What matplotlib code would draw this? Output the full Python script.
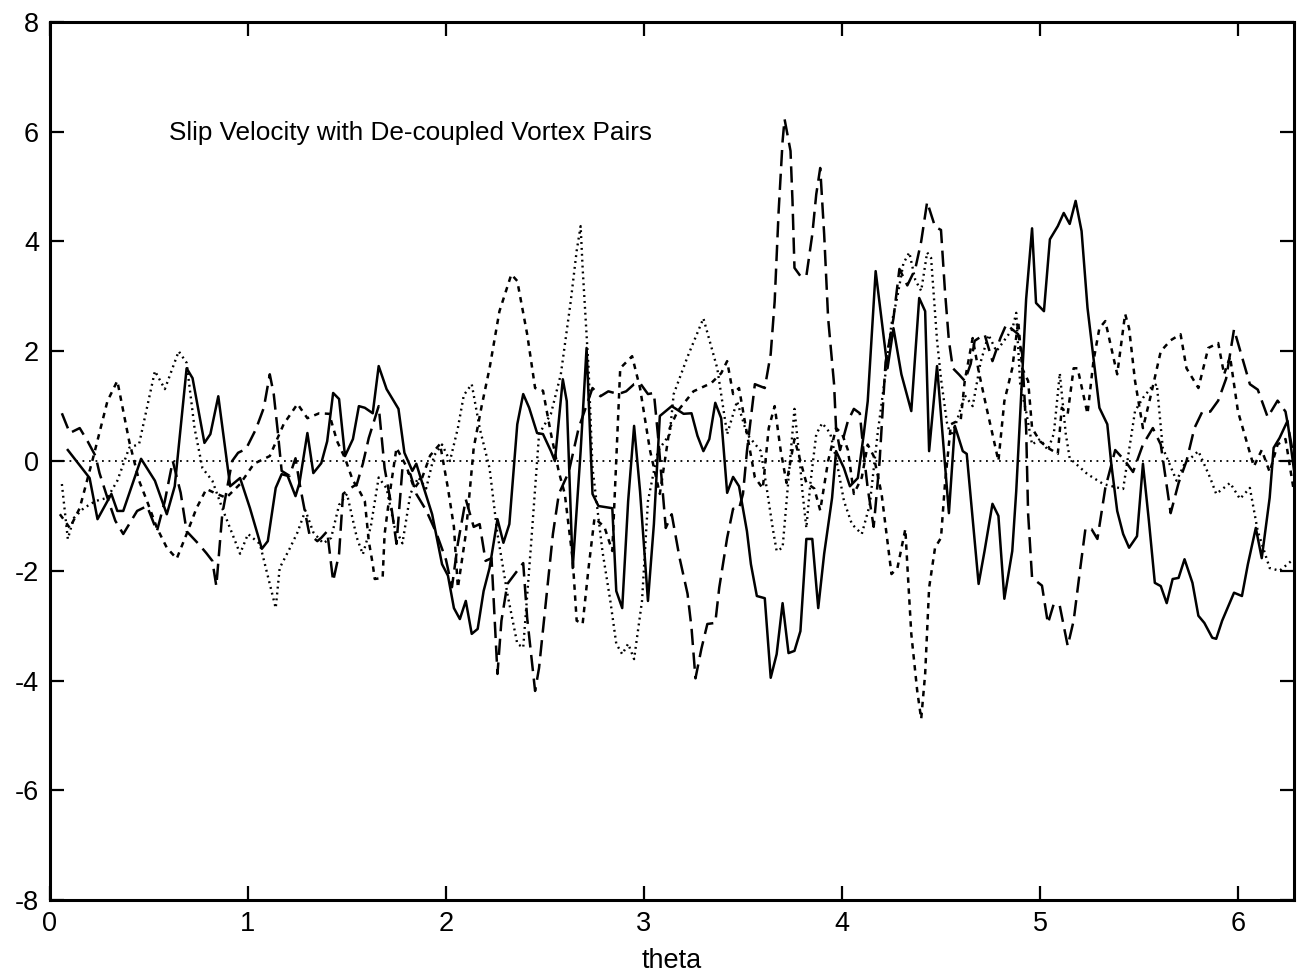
import numpy as np
import matplotlib
matplotlib.use("Agg")
import matplotlib.pyplot as plt

plt.rcParams['font.family'] = ['Liberation Sans', 'DejaVu Sans']
plt.rcParams['axes.unicode_minus'] = False

# solid curve
x_solid = [0.09, 0.20, 0.24, 0.31, 0.34, 0.37, 0.46, 0.53, 0.59, 0.63, 0.69, 0.72, 0.78, 0.81, 0.85, 0.91, 0.96, 1.01,
           1.07, 1.10, 1.14, 1.17, 1.20, 1.24, 1.26, 1.30, 1.33, 1.37, 1.40, 1.43, 1.46, 1.49, 1.53, 1.56, 1.59, 1.63,
           1.66, 1.70, 1.73, 1.76, 1.79, 1.83, 1.85, 1.88, 1.93, 1.98, 2.01, 2.04, 2.07, 2.10, 2.13, 2.16, 2.19, 2.22,
           2.26, 2.29, 2.32, 2.36, 2.39, 2.42, 2.46, 2.49, 2.53, 2.55, 2.59, 2.61, 2.64, 2.68, 2.71, 2.74, 2.77, 2.84,
           2.86, 2.89, 2.92, 2.95, 2.98, 3.02, 3.05, 3.08, 3.14, 3.20, 3.24, 3.27, 3.30, 3.33, 3.36, 3.39, 3.42, 3.45,
           3.48, 3.52, 3.54, 3.57, 3.61, 3.64, 3.67, 3.70, 3.73, 3.76, 3.79, 3.82, 3.85, 3.88, 3.91, 3.95, 3.97, 4.01,
           4.04, 4.08, 4.11, 4.13, 4.17, 4.23, 4.26, 4.30, 4.35, 4.39, 4.42, 4.44, 4.48, 4.54, 4.57, 4.61, 4.63, 4.69,
           4.72, 4.76, 4.79, 4.82, 4.86, 4.88, 4.93, 4.96, 4.98, 5.02, 5.05, 5.09, 5.12, 5.15, 5.18, 5.21, 5.24, 5.27,
           5.30, 5.34, 5.36, 5.39, 5.42, 5.45, 5.49, 5.52, 5.55, 5.58, 5.61, 5.64, 5.67, 5.70, 5.73, 5.77, 5.80, 5.83,
           5.87, 5.89, 5.92, 5.98, 6.02, 6.05, 6.09, 6.12, 6.16, 6.18, 6.21, 6.25, 6.29]
y_solid = [0.20, -0.31, -1.06, -0.60, -0.91, -0.91, 0.04, -0.36, -0.97, -0.46, 1.69, 1.51, 0.33, 0.49, 1.18, -0.46,
           -0.31, -0.86, -1.60, -1.46, -0.49, -0.24, -0.27, -0.64, -0.40, 0.51, -0.22, -0.04, 0.36, 1.24, 1.13, 0.09,
           0.40, 1.00, 0.97, 0.87, 1.73, 1.31, 1.13, 0.95, 0.15, -0.18, -0.05, -0.40, -0.97, -1.88, -2.09, -2.68, -2.88,
           -2.55, -3.15, -3.06, -2.37, -1.95, -1.06, -1.49, -1.15, 0.67, 1.22, 0.97, 0.51, 0.49, 0.18, 0.00, 1.49, 1.09,
           -1.95, 0.18, 2.06, -0.60, -0.82, -0.86, -2.37, -2.68, -0.73, 0.64, -0.55, -2.55, -1.15, 0.82, 1.00, 0.86,
           0.87, 0.46, 0.18, 0.40, 1.06, 0.78, -0.58, -0.29, -0.46, -1.28, -1.88, -2.46, -2.50, -3.95, -3.52, -2.59,
           -3.50, -3.46, -3.10, -1.42, -1.42, -2.68, -1.69, -0.67, 0.18, -0.13, -0.46, -0.31, 0.49, 1.09, 3.46, 1.69,
           2.42, 1.58, 0.91, 2.97, 2.73, 0.18, 1.73, -0.95, 0.64, 0.18, 0.13, -2.24, -1.64, -0.78, -1.00, -2.51, -1.64,
           -0.55, 2.95, 4.24, 2.88, 2.73, 4.04, 4.28, 4.52, 4.32, 4.74, 4.19, 2.79, 1.88, 0.97, 0.67, -0.05, -0.91,
           -1.33, -1.58, -1.37, -0.05, -1.09, -2.22, -2.28, -2.59, -2.15, -2.13, -1.79, -2.22, -2.82, -2.95, -3.22,
           -3.24, -2.91, -2.40, -2.46, -1.88, -1.22, -1.77, -0.67, 0.24, 0.42, 0.73, -0.36]

# long dashed curve
x_long = [0.06, 0.10, 0.15, 0.19, 0.23, 0.25, 0.29, 0.33, 0.37, 0.41, 0.44, 0.49, 0.54, 0.58, 0.62, 0.66, 0.69, 0.75,
          0.79, 0.82, 0.84, 0.87, 0.92, 0.95, 0.99, 1.04, 1.08, 1.11, 1.13, 1.15, 1.17, 1.21, 1.24, 1.26, 1.29, 1.31,
          1.35, 1.37, 1.40, 1.43, 1.46, 1.48, 1.52, 1.55, 1.58, 1.61, 1.66, 1.69, 1.72, 1.75, 1.78, 1.82, 1.85, 1.90,
          1.95, 2.00, 2.03, 2.06, 2.10, 2.14, 2.17, 2.20, 2.23, 2.26, 2.28, 2.31, 2.36, 2.39, 2.41, 2.45, 2.47, 2.51,
          2.54, 2.57, 2.62, 2.67, 2.74, 2.78, 2.82, 2.87, 2.91, 2.95, 2.98, 3.02, 3.05, 3.07, 3.11, 3.14, 3.18, 3.22,
          3.24, 3.26, 3.29, 3.32, 3.36, 3.38, 3.42, 3.45, 3.48, 3.50, 3.52, 3.56, 3.61, 3.64, 3.66, 3.68, 3.70, 3.71,
          3.74, 3.75, 3.76, 3.79, 3.82, 3.85, 3.87, 3.89, 3.91, 3.93, 3.96, 3.97, 3.99, 4.03, 4.06, 4.09, 4.11, 4.13,
          4.16, 4.19, 4.22, 4.26, 4.29, 4.33, 4.37, 4.40, 4.43, 4.47, 4.50, 4.52, 4.54, 4.56, 4.59, 4.62, 4.65, 4.67,
          4.72, 4.76, 4.80, 4.83, 4.89, 4.91, 4.93, 4.94, 4.96, 5.01, 5.04, 5.07, 5.10, 5.14, 5.17, 5.20, 5.23, 5.26,
          5.29, 5.33, 5.38, 5.43, 5.47, 5.52, 5.57, 5.61, 5.66, 5.70, 5.74, 5.78, 5.82, 5.86, 5.90, 5.94, 5.98, 6.02,
          6.06, 6.10, 6.15, 6.20, 6.24, 6.28]
y_long = [0.87, 0.51, 0.60, 0.36, 0.09, -0.22, -0.67, -1.09, -1.33, -1.09, -0.91, -0.82, -1.28, -0.73, 0.00, -0.58,
          -1.28, -1.51, -1.68, -1.82, -2.28, -0.97, 0.00, 0.15, 0.22, 0.58, 0.97, 1.58, 1.22, 0.55, -0.18, -0.27, 0.05,
          -0.40, -0.97, -1.33, -1.46, -1.40, -1.28, -2.19, -1.69, -0.60, -0.49, -0.42, -0.05, 0.42, 1.00, -0.13, -0.73,
          -1.51, -0.13, -0.24, -0.60, -0.90, -1.30, -1.80, -2.30, -1.50, -0.70, -1.20, -1.15, -1.82, -1.77, -3.88,
          -2.91, -2.24, -2.00, -1.86, -2.86, -4.19, -3.77, -2.37, -1.33, -0.60, -0.20, 0.60, 1.33, 1.18, 1.27, 1.22,
          1.27, 1.40, 1.42, 1.22, 1.24, 0.49, -1.22, -0.97, -1.77, -2.42, -3.04, -3.96, -3.42, -2.97, -2.95, -2.31,
          -1.40, -0.87, -0.87, -0.60, 0.18, 1.40, 1.33, 1.95, 2.91, 4.55, 5.83, 6.23, 5.65, 4.74, 3.52, 3.37, 3.37,
          4.13, 4.86, 5.34, 4.13, 2.60, 1.40, 0.60, 0.20, 0.73, 0.95, 0.87, 0.13, -0.50, -1.20, 0.00, 1.80, 2.60, 3.50,
          3.20, 3.50, 4.00, 4.72, 4.27, 4.21, 3.10, 2.19, 1.69, 1.58, 1.46, 1.77, 2.19, 2.31, 1.82, 2.24, 2.49, 2.31,
          1.95, 0.60, -0.96, -2.13, -2.27, -2.96, -2.60, -2.64, -3.37, -2.91, -2.05, -1.22, -1.24, -1.42, -0.49, 0.20,
          0.00, -0.20, 0.30, 0.60, 0.30, -0.95, -0.40, 0.00, 0.60, 0.90, 0.90, 1.10, 1.50, 2.40, 1.90, 1.40, 1.30,
          0.80, 1.10, 0.90, 0.10]

# short dashed curve
x_short = [0.05, 0.10, 0.15, 0.22, 0.29, 0.34, 0.40, 0.45, 0.49, 0.54, 0.59, 0.64, 0.69, 0.74, 0.79, 0.83, 0.89, 0.96,
           1.03, 1.11, 1.18, 1.25, 1.30, 1.36, 1.41, 1.45, 1.49, 1.53, 1.55, 1.59, 1.61, 1.63, 1.64, 1.68, 1.69, 1.72,
           1.75, 1.80, 1.84, 1.88, 1.92, 1.97, 2.01, 2.04, 2.06, 2.10, 2.14, 2.18, 2.22, 2.27, 2.33, 2.36, 2.41, 2.45,
           2.49, 2.53, 2.57, 2.60, 2.64, 2.66, 2.69, 2.72, 2.75, 2.80, 2.84, 2.88, 2.94, 2.98, 3.03, 3.08, 3.13, 3.17,
           3.25, 3.34, 3.39, 3.42, 3.45, 3.48, 3.52, 3.56, 3.60, 3.63, 3.66, 3.69, 3.72, 3.76, 3.79, 3.82, 3.86, 3.89,
           3.93, 3.97, 4.00, 4.03, 4.06, 4.10, 4.13, 4.16, 4.20, 4.25, 4.28, 4.32, 4.33, 4.35, 4.38, 4.40, 4.42, 4.44,
           4.47, 4.50, 4.52, 4.55, 4.60, 4.62, 4.66, 4.69, 4.73, 4.76, 4.79, 4.82, 4.86, 4.89, 4.91, 4.94, 4.96, 5.00,
           5.04, 5.09, 5.11, 5.14, 5.17, 5.19, 5.24, 5.27, 5.30, 5.33, 5.39, 5.43, 5.45, 5.48, 5.52, 5.56, 5.61, 5.66,
           5.71, 5.74, 5.80, 5.85, 5.90, 5.93, 5.96, 6.00, 6.04, 6.08, 6.12, 6.16, 6.20, 6.24, 6.28]
y_short = [-0.97, -1.22, -0.86, 0.09, 1.09, 1.46, 0.36, -0.36, -0.73, -1.22, -1.58, -1.78, -1.33, -0.86, -0.51, -0.58,
           -0.67, -0.42, -0.05, 0.09, 0.67, 1.04, 0.78, 0.87, 0.86, 0.36, 0.05, -0.36, -0.46, -0.73, -1.46, -1.88, -2.15,
           -2.13, -1.33, -0.49, 0.24, -0.10, -0.50, -0.30, 0.10, 0.31, -0.50, -1.20, -2.31, -1.33, 0.24, 1.00, 1.69,
           2.73, 3.40, 3.28, 2.31, 1.33, 1.28, 0.50, -0.20, -0.60, -1.80, -2.91, -2.97, -1.95, -1.04, -1.20, -1.64, 1.69,
           1.91, 1.33, 0.20, -0.60, 0.60, 0.91, 1.27, 1.42, 1.60, 1.82, 1.22, 1.33, 0.50, -0.30, -0.50, 0.60, 1.00,
           0.20, -0.40, 0.40, 0.00, -0.40, -0.50, -0.90, 0.00, 0.60, 0.50, 0.20, -0.60, -0.30, 0.30, 0.09, -0.60,
           -2.06, -1.95, -1.24, -1.90, -3.15, -4.19, -4.70, -3.88, -2.31, -1.58, -1.40, -0.42, 0.67, 0.76, 1.46, 2.24,
           1.64, 0.97, 0.49, 0.00, 1.09, 1.69, 2.55, 1.69, 1.46, 0.60, 0.36, 0.24, 0.13, 0.97, 0.86, 1.69, 1.69, 0.86,
           1.82, 2.42, 2.55, 1.58, 2.68, 2.42, 1.46, 0.60, 1.20, 2.00, 2.20, 2.31, 1.69, 1.33, 2.06, 2.15, 1.58, 1.90,
           0.90, 0.40, -0.10, 0.20, -0.20, 0.30, 0.40, -0.50]

# dotted curve
x_dot = [0.06, 0.09, 0.12, 0.17, 0.23, 0.29, 0.34, 0.40, 0.45, 0.53, 0.58, 0.65, 0.69, 0.73, 0.77, 0.82, 0.87, 0.96,
         1.00, 1.06, 1.11, 1.14, 1.16, 1.21, 1.25, 1.29, 1.33, 1.38, 1.42, 1.46, 1.50, 1.55, 1.58, 1.62, 1.66, 1.70,
         1.74, 1.78, 1.82, 1.86, 1.90, 1.94, 1.98, 2.02, 2.06, 2.09, 2.13, 2.17, 2.22, 2.26, 2.31, 2.36, 2.39, 2.43,
         2.47, 2.53, 2.58, 2.63, 2.66, 2.68, 2.69, 2.72, 2.74, 2.79, 2.83, 2.86, 2.89, 2.92, 2.95, 2.99, 3.02, 3.07,
         3.13, 3.15, 3.22, 3.30, 3.37, 3.42, 3.47, 3.52, 3.59, 3.62, 3.65, 3.67, 3.70, 3.72, 3.76, 3.79, 3.80, 3.82,
         3.84, 3.87, 3.90, 3.94, 3.97, 4.01, 4.05, 4.10, 4.14, 4.18, 4.22, 4.25, 4.28, 4.31, 4.34, 4.37, 4.40, 4.43,
         4.45, 4.48, 4.50, 4.53, 4.55, 4.58, 4.62, 4.66, 4.70, 4.74, 4.78, 4.82, 4.86, 4.88, 4.90, 4.93, 4.96, 5.00,
         5.04, 5.07, 5.10, 5.13, 5.15, 5.24, 5.32, 5.42, 5.48, 5.52, 5.56, 5.59, 5.62, 5.69, 5.73, 5.80, 5.86, 5.89,
         5.96, 6.01, 6.06, 6.10, 6.16, 6.21, 6.27]
y_dot = [-0.42, -1.42, -1.04, -0.86, -0.73, -0.67, -0.36, 0.24, 0.31, 1.64, 1.31, 2.00, 1.79, 0.60, -0.13, -0.36, -0.86,
         -1.69, -1.33, -1.51, -2.24, -2.68, -1.95, -1.60, -1.30, -0.90, -1.30, -1.50, -1.40, -0.80, -0.60, -1.40,
         -1.70, -1.20, -0.30, -0.50, -1.20, -1.50, -0.60, -0.30, -0.50, 0.10, 0.30, 0.00, 0.60, 1.20, 1.40, 0.60,
         -0.13, -1.33, -2.42, -3.33, -3.40, -1.50, 0.49, 0.86, 1.58, 2.91, 3.83, 4.28, 3.52, 1.69, -0.13, -1.64, -2.55,
         -3.33, -3.52, -3.33, -3.61, -2.55, -0.73, 0.18, 0.49, 1.22, 1.90, 2.60, 1.69, 0.49, 1.09, 0.49, 0.18, -0.50,
         -1.22, -1.64, -1.58, -0.73, 0.95, -0.13, -0.55, -1.22, -0.42, 0.49, 0.69, 0.51, 0.05, -0.73, -1.15, -1.33,
         -0.80, 0.50, 1.60, 2.50, 3.00, 3.60, 3.80, 3.30, 3.10, 3.80, 3.70, 2.20, 1.50, 0.70, 0.45, 0.73, 1.20, 1.00,
         1.80, 2.30, 2.00, 2.20, 2.40, 2.70, 1.40, 0.90, 0.30, 0.40, 0.20, 0.50, 1.60, 0.50, 0.05, -0.24, -0.42,
         -0.51, 0.91, 1.15, 1.33, 1.40, 0.24, -0.36, -0.05, 0.18, -0.31, -0.60, -0.40, -0.69, -0.49, -1.28, -1.95,
         -2.00, -1.82]

fig = plt.figure(figsize=(13.02, 9.73), dpi=100)
ax = fig.add_axes([0.0384, 0.075, 0.9555, 0.9024])

ax.plot(x_solid, y_solid, color='black', lw=1.8, linestyle='-')
ax.plot(x_long, y_long, color='black', lw=1.8, linestyle=(0, (6.5, 3)))
ax.plot(x_short, y_short, color='black', lw=1.8, linestyle=(0, (2.2, 2.2)))
ax.plot(x_dot, y_dot, color='black', lw=1.7, linestyle=(0, (0.8, 1.7)))
ax.axhline(0, color='black', lw=1.3, linestyle=(0, (1, 2.6)))

ax.text(0.6, 5.97, 'Slip Velocity with De-coupled Vortex Pairs', fontsize=18.8, va='center')

ax.set_xlim(0, 2 * np.pi)
ax.set_ylim(-8, 8)
ax.set_xticks([0, 1, 2, 3, 4, 5, 6])
ax.set_yticks([-8, -6, -4, -2, 0, 2, 4, 6, 8])
ax.tick_params(direction='in', length=10, width=1.6, top=True, right=True, labelsize=19.5, pad=8)
for s in ax.spines.values():
    s.set_linewidth(2.2)
ax.set_xlabel('theta', fontsize=19.5, labelpad=8)

fig.savefig('out.png', dpi=100)
